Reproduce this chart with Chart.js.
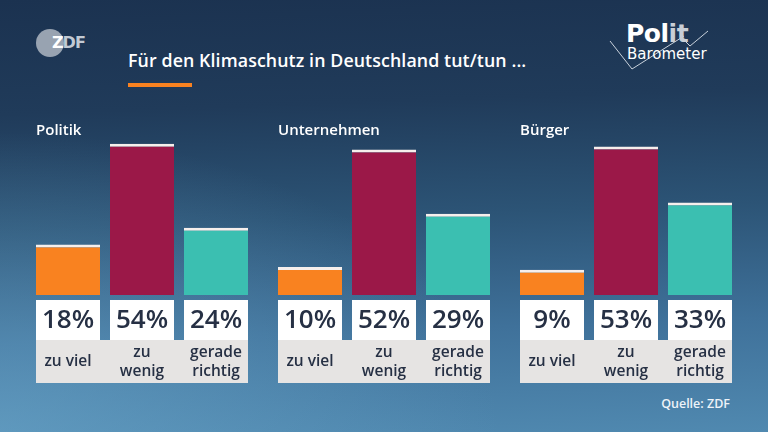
<!DOCTYPE html>
<html>
<head>
<meta charset="utf-8">
<script src="https://cdn.jsdelivr.net/npm/chart.js@4"></script>
<style>
  html, body { margin:0; padding:0; }
  body { width:768px; height:432px; overflow:hidden; position:relative;
    background:
      radial-gradient(ellipse 500px 300px at 0px 432px, rgba(110,170,205,0.55), rgba(110,170,205,0) 100%),
      linear-gradient(178deg, #1b3250 0%, #203b5a 25%, #2c5476 50%, #3f719a 75%, #5089b0 100%);
    font-family: "Open Sans", "Noto Sans", sans-serif; }
  #wrap { position:absolute; left:0; top:0; width:768px; height:432px; }
  .title { position:absolute; left:128px; top:48px; color:#fff; font-weight:600; font-size:17.8px; white-space:nowrap; letter-spacing:0.1px; }
  .uline { position:absolute; left:128px; top:83px; width:64px; height:4px; background:#f98220; }
  .zdf-c { position:absolute; left:36px; top:29px; width:28px; height:28px; border-radius:50%; background:#98a3b1; }
  .zdf-t { position:absolute; left:52px; top:33px; font-family:"DejaVu Sans", sans-serif; font-weight:bold; font-size:16px; color:#c2cad4; letter-spacing:-1px; }
  .zdf-t b { color:#fff; }
  .polit { position:absolute; left:626px; top:19px; font-weight:700; font-size:25px; color:#fff; font-family:"DejaVu Sans", sans-serif; letter-spacing:-0.5px; }
  .polit span { color:#c8ced6; }
  .baro { position:absolute; left:627px; top:45px; font-size:15px; color:#fff; font-family:"DejaVu Sans", sans-serif; }
  .src { position:absolute; right:38px; top:395px; font-size:12.5px; font-weight:600; color:#eef3f8; }
  svg { position:absolute; left:0; top:0; }
</style>
</head>
<body>
<div class="zdf-c"></div>
<div class="zdf-t"><b>Z</b>DF</div>
<svg width="768" height="100"><polyline points="610,41 632,69 684,36" fill="none" stroke="#c9d2dc" stroke-width="1"/><polyline points="681,37 690,46 708,31" fill="none" stroke="#c9d2dc" stroke-width="1"/></svg>
<div class="polit">Pol<span>it</span></div>
<div class="baro">Barometer</div>
<div class="title">Für den Klimaschutz in Deutschland tut/tun ...</div>
<div class="uline"></div>
<div class="src">Quelle: ZDF</div>
<div id="wrap"><canvas id="c" width="768" height="432"></canvas></div>
<script>
const groups = ['Politik', 'Unternehmen', 'Bürger'];
const answers = ['zu viel', 'zu wenig', 'gerade richtig'];
const answerLines = [['zu viel'], ['zu', 'wenig'], ['gerade', 'richtig']];
const zuViel = [18, 10, 9];
const zuWenig = [54, 52, 53];
const geradeRichtig = [24, 29, 33];
const colors = ['#f98220', '#9b1848', '#3bbfb1'];

const overlay = {
  id: 'overlay',
  afterDatasetsDraw(chart) {
    const ctx = chart.ctx;
    const n = chart.data.datasets.length;
    ctx.save();
    for (let g = 0; g < groups.length; g++) {
      const first = chart.getDatasetMeta(0).data[g];
      const last = chart.getDatasetMeta(n - 1).data[g];
      const x0 = first.x - first.width / 2, x1 = last.x + last.width / 2;
      ctx.fillStyle = '#e6e4e3';
      ctx.fillRect(x0, 340, x1 - x0, 43);
      ctx.fillStyle = '#ffffff';
      ctx.font = '600 15px "Open Sans", sans-serif';
      ctx.textAlign = 'left';
      ctx.textBaseline = 'middle';
      ctx.fillText(groups[g], x0, 131);
    }
    for (let d = 0; d < n; d++) {
      const meta = chart.getDatasetMeta(d);
      meta.data.forEach((el, i) => {
        const x0 = el.x - el.width / 2;
        ctx.fillStyle = '#ffffff';
        ctx.fillRect(x0, 300, el.width, 40);
        ctx.fillStyle = '#263044';
        ctx.font = '600 26px "Open Sans", sans-serif';
        ctx.textAlign = 'center';
        ctx.textBaseline = 'middle';
        ctx.fillText(chart.data.datasets[d].data[i] + '%', el.x, 321);
        ctx.font = '600 15.5px "Open Sans", sans-serif';
        const lines = answerLines[d];
        if (lines.length === 1) {
          ctx.fillText(lines[0], el.x, 362);
        } else {
          ctx.fillText(lines[0], el.x, 353);
          ctx.fillText(lines[1], el.x, 372);
        }
      });
    }
    ctx.restore();
  }
};

const series = [zuViel, zuWenig, geradeRichtig];
new Chart(document.getElementById('c'), {
  type: 'bar',
  data: {
    labels: groups,
    datasets: series.map((s, i) => ({
      label: answers[i],
      data: s,
      backgroundColor: colors[i],
      borderColor: '#f6efec',
      borderWidth: { top: 3, left: 0, right: 0, bottom: 0 },
      borderSkipped: 'bottom',
      categoryPercentage: 222 / 242,
      barPercentage: 64 / 74
    }))
  },
  options: {
    responsive: false,
    animation: false,
    layout: { padding: { left: 21, right: 21, top: 127, bottom: 137 } },
    plugins: { legend: { display: false }, tooltip: { enabled: false } },
    scales: {
      x: { display: false },
      y: { display: false, min: 0, max: 60 }
    }
  },
  plugins: [overlay]
});
</script>
</body>
</html>
